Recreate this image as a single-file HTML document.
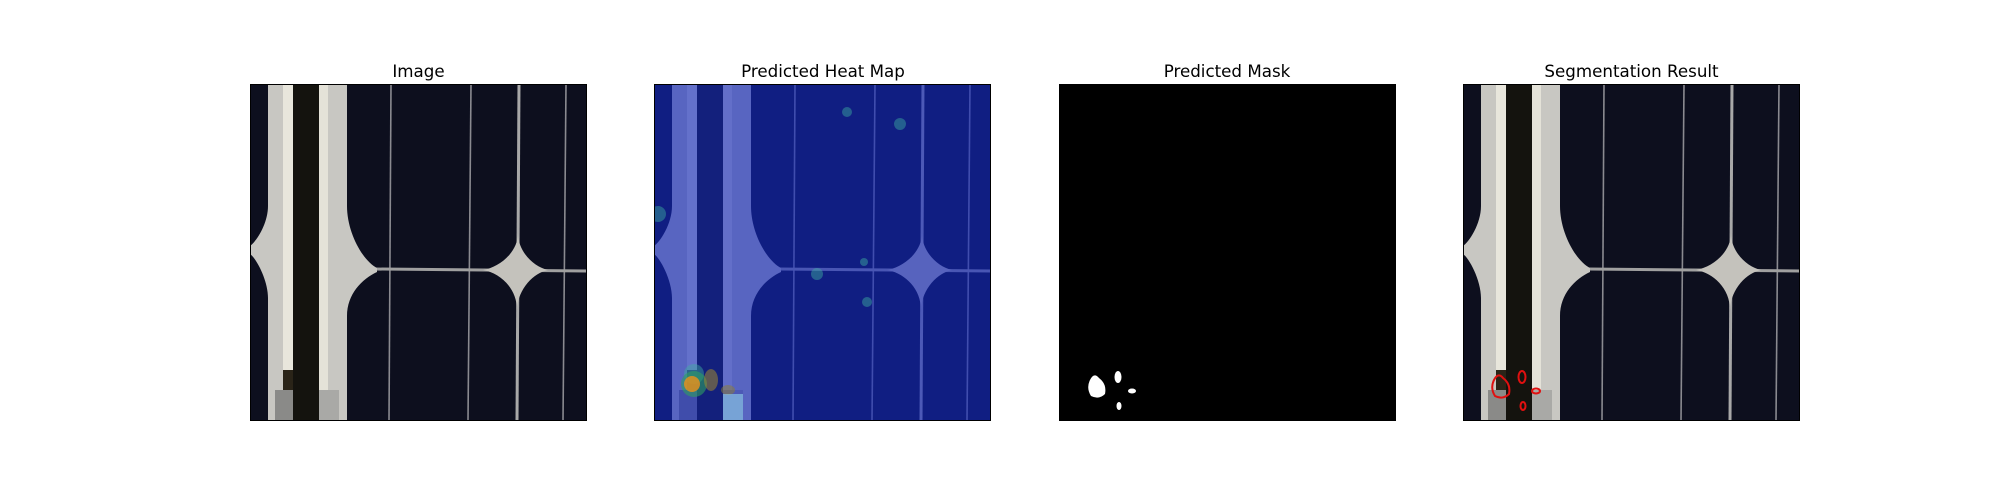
<!DOCTYPE html>
<html><head><meta charset="utf-8"><style>
html,body{margin:0;padding:0;background:#fff;width:2000px;height:500px;overflow:hidden}
svg{display:block}
text{font-family:"DejaVu Sans","Liberation Sans",sans-serif;font-size:16.7px;fill:#000}
</style></head><body>
<svg width="2000" height="500" viewBox="0 0 2000 500">
<defs>
<clipPath id="cp"><rect x="0" y="0" width="337" height="337"/></clipPath>
<g id="cell">
  <rect x="0" y="0" width="337" height="337" fill="#0d0f1e"/>
  <line x1="141" y1="0" x2="139" y2="337" stroke="#8a8a90" stroke-width="1.6"/>
  <line x1="221" y1="0" x2="218" y2="337" stroke="#8a8a90" stroke-width="1.6"/>
  <line x1="316" y1="0" x2="313" y2="337" stroke="#8a8a90" stroke-width="1.6"/>
  <line x1="269" y1="0" x2="267" y2="337" stroke="#a8a8a8" stroke-width="3"/>
  <line x1="125" y1="185" x2="337" y2="187" stroke="#a0a0a0" stroke-width="3"/>
  <path d="M268,149 C268,168 284,183 298,186 C284,189 268,204 267,226 C267,204 250,189 233,186 C250,183 268,168 268,149 Z" fill="#c4c2bc"/>
  <path d="M18,0 L43,0 L43,337 L18,337 L18,214 C18,196 6,174 0,170 L0,162 C6,158 18,140 18,122 Z" fill="#c8c7c2"/>
  <rect x="33" y="0" width="10" height="337" fill="#e8e6dc"/>
  <rect x="43" y="0" width="26" height="337" fill="#14130e"/>
  <path d="M69,0 L97,0 L97,122 C97,148 112,176 127,184 L127,188 C112,195 97,210 97,232 L97,337 L69,337 Z" fill="#c8c7c2"/>
  <rect x="69" y="0" width="9" height="337" fill="#e4e2d8"/>
  <rect x="33" y="286" width="10" height="22" fill="#2a2418"/>
  <rect x="25" y="306" width="18" height="31" fill="#8a8a88"/>
  <rect x="69" y="306" width="20" height="31" fill="#a9a9a6"/>
</g>
</defs>

<text x="418.5" y="77" text-anchor="middle">Image</text>
<g transform="translate(250,84)">
  <use href="#cell"/>
  <rect x="0.5" y="0.5" width="336" height="336" fill="none" stroke="#000" stroke-width="1"/>
</g>

<text x="823" y="77" text-anchor="middle">Predicted Heat Map</text>
<g transform="translate(654,84)" clip-path="url(#cp)">
  <use href="#cell"/>
  <rect x="0" y="0" width="337" height="337" fill="#1428c0" opacity="0.62"/>
  <g fill="#3fb0a0" opacity="0.45">
    <circle cx="193" cy="28" r="5"/><circle cx="246" cy="40" r="6"/>
    <circle cx="4" cy="130" r="8"/><circle cx="163" cy="190" r="6"/>
    <circle cx="210" cy="178" r="4"/><circle cx="213" cy="218" r="5"/>
    <circle cx="40" cy="290" r="10"/>
  </g>
  <ellipse cx="40" cy="300" rx="13" ry="13" fill="#2fa060" opacity="0.6"/>
  <ellipse cx="38" cy="300" rx="8" ry="8" fill="#e09020" opacity="0.85"/>
  <ellipse cx="57" cy="296" rx="7" ry="11" fill="#a08830" opacity="0.55"/>
  <ellipse cx="74" cy="306" rx="7" ry="5" fill="#908030" opacity="0.5"/>
  <rect x="69" y="310" width="20" height="27" fill="#9ae0f0" opacity="0.55"/>
  <rect x="0.5" y="0.5" width="336" height="336" fill="none" stroke="#000" stroke-width="1"/>
</g>

<text x="1227" y="77" text-anchor="middle">Predicted Mask</text>
<g transform="translate(1059,84)">
  <rect x="0" y="0" width="337" height="337" fill="#000"/>
  <g fill="#fff">
    <path d="M31,296 Q35,288 40,294 Q48,300 46,310 Q40,316 32,312 Q27,304 31,296 Z"/>
    <ellipse cx="59" cy="293" rx="3.5" ry="6"/>
    <ellipse cx="73" cy="307" rx="4" ry="2.5"/>
    <ellipse cx="60" cy="322" rx="2.5" ry="4"/>
  </g>
  <rect x="0.5" y="0.5" width="336" height="336" fill="none" stroke="#000" stroke-width="1"/>
</g>

<text x="1631.5" y="77" text-anchor="middle">Segmentation Result</text>
<g transform="translate(1463,84)">
  <use href="#cell"/>
  <g fill="none" stroke="#e01010" stroke-width="2">
    <path d="M31,296 Q35,288 40,294 Q48,300 46,310 Q40,316 32,312 Q27,304 31,296 Z"/>
    <ellipse cx="59" cy="293" rx="3.5" ry="6"/>
    <ellipse cx="73" cy="307" rx="4" ry="2.5"/>
    <ellipse cx="60" cy="322" rx="2.5" ry="4"/>
  </g>
  <rect x="0.5" y="0.5" width="336" height="336" fill="none" stroke="#000" stroke-width="1"/>
</g>
</svg>
</body></html>
